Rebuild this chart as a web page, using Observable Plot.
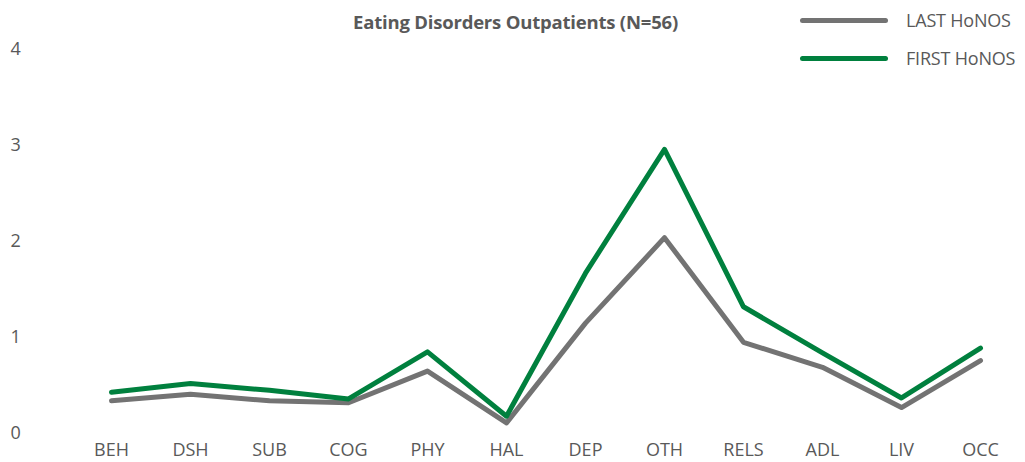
<!DOCTYPE html>
<html>
<head>
<meta charset="utf-8">
<script src="https://cdn.jsdelivr.net/npm/d3@7"></script>
<script src="https://cdn.jsdelivr.net/npm/@observablehq/plot@0.6"></script>
<style>
  html, body { margin: 0; padding: 0; background: #fff; }
  #wrap { position: relative; width: 1025px; height: 462px; font-family: "Open Sans", sans-serif; }
  #title { position: absolute; left: 0; width: 1025px; top: 9px; text-align: center; font-size: 18.5px; font-weight: 700; color: #595959; padding-left: 6px; box-sizing: border-box; letter-spacing: -0.2px; }
  .leg { position: absolute; left: 800px; display: flex; align-items: center; font-size: 18px; color: #595959; letter-spacing: -0.2px; }
  .leg span.sw { display: inline-block; width: 88px; height: 5px; border-radius: 3px; margin-right: 18px; }
</style>
</head>
<body>
<div id="wrap">
  <div id="chart"></div>
  <div id="title"></div>
  <div id="legend"></div>
</div>
<script>
const title = "Eating Disorders Outpatients (N=56)";
const categories = ["BEH","DSH","SUB","COG","PHY","HAL","DEP","OTH","RELS","ADL","LIV","OCC"];
const seriesNames = ["LAST HoNOS", "FIRST HoNOS"];
const seriesColors = ["#737373", "#00803E"];
const lastValues  = [0.34, 0.41, 0.34, 0.32, 0.65, 0.11, 1.15, 2.04, 0.95, 0.69, 0.27, 0.76];
const firstValues = [0.43, 0.52, 0.45, 0.36, 0.85, 0.18, 1.67, 2.96, 1.32, 0.84, 0.37, 0.89];
const yTicks = [0, 1, 2, 3, 4];

const rows = [];
categories.forEach((c, i) => {
  rows.push({cat: c, value: lastValues[i], series: seriesNames[0]});
});
categories.forEach((c, i) => {
  rows.push({cat: c, value: firstValues[i], series: seriesNames[1]});
});

const chart = Plot.plot({
  width: 1025,
  height: 462,
  marginLeft: 66,
  marginRight: 0,
  marginTop: 49,
  marginBottom: 29,
  style: { fontFamily: "'Open Sans', sans-serif", color: "#595959", background: "#fff" },
  x: { type: "point", domain: categories, padding: 0.5, label: null },
  y: { domain: [0, 4], label: null },
  color: { domain: seriesNames, range: seriesColors },
  marks: [
    Plot.axisY({ ticks: yTicks, tickSize: 0, tickPadding: 0, textAnchor: "start", dx: -56, fontSize: 18, fill: "#595959", label: null, tickFormat: d3.format("d") }),
    Plot.axisX({ tickSize: 0, tickPadding: 10, fontSize: 18, fill: "#595959", label: null }),
    Plot.line(rows, { x: "cat", y: "value", z: "series", stroke: "series", strokeWidth: 5, strokeLinejoin: "round", strokeLinecap: "round" })
  ]
});
document.getElementById("chart").appendChild(chart);
document.getElementById("title").textContent = title;

const legend = document.getElementById("legend");
seriesNames.forEach((name, i) => {
  const d = document.createElement("div");
  d.className = "leg";
  d.style.top = (8 + i * 38) + "px";
  const sw = document.createElement("span");
  sw.className = "sw";
  sw.style.background = seriesColors[i];
  d.appendChild(sw);
  d.appendChild(document.createTextNode(name));
  legend.appendChild(d);
});
</script>
</body>
</html>
